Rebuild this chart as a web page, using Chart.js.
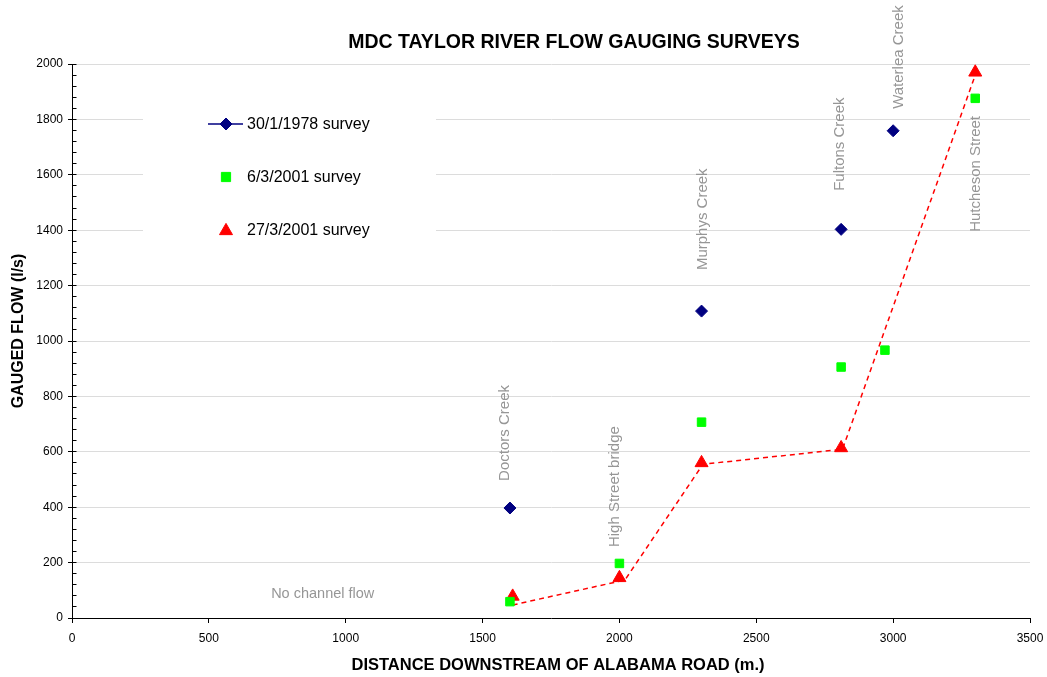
<!DOCTYPE html>
<html>
<head>
<meta charset="utf-8">
<title>MDC Taylor River flow gauging surveys</title>
<script src="https://cdn.jsdelivr.net/npm/chart.js@4/dist/chart.umd.min.js"></script>
<style>
  html, body { margin: 0; padding: 0; background: #ffffff; }
  #wrap { width: 1047px; height: 677px; position: relative; }
</style>
</head>
<body>
<div id="wrap"><canvas id="flowChart" width="1047" height="677"></canvas></div>
<script>
// ---- Survey data: distance downstream (m) and gauged flow (l/s) ----
const distance1978 = [1600, 2300, 2810, 3000];
const flow1978     = [397, 1108, 1403, 1759];

const distanceMar6 = [1600, 2000, 2300, 2810, 2970, 3300];
const flowMar6     = [59, 197, 707, 906, 967, 1876];

const distanceMar27 = [1610, 2000, 2300, 2810, 3300];
const flowMar27     = [78, 145, 560, 614, 1970];

// dashed trace drawn along the 27/3/2001 survey
const traceDistance = [1610, 2020, 2305, 2815, 3300];
const traceFlow     = [47, 137, 555, 609, 1960];

const seriesNames = ['30/1/1978 survey', '6/3/2001 survey', '27/3/2001 survey'];

// gauging sites along the river
const siteNames = ['Doctors Creek', 'High Street bridge', 'Murphys Creek',
                   'Fultons Creek', 'Waterlea Creek', 'Hutcheson Street'];
const noFlowNote = 'No channel flow';

// axis ranges
const xMin = 0, xMax = 3500, xStep = 500;
const yMin = 0, yMax = 2000, yStep = 200, yMinorStep = 40;

// ---- layout / styling ----
const FONT = '"Liberation Sans", Arial, Helvetica, sans-serif';
const NAVY = '#000080', GREEN = '#00ff00', RED = '#ff0000';
const NOTE_GREY = '#969696';
const GRID_GREY = '#dcdcdc';

// where each site name starts (data units), text runs upward
const siteAnchors = [
  { x: 1583, y: 495 },
  { x: 1985, y: 256 },
  { x: 2305, y: 1256 },
  { x: 2805, y: 1542 },
  { x: 3021, y: 1838 },
  { x: 3303, y: 1394 }
];
const noFlowAnchor = { x: 916, y: 87 };

const toPoints = (xs, ys) => xs.map((v, i) => ({ x: v, y: ys[i] }));
const plainNumber = (v) => String(v);

function drawMarker(ctx, style, x, y, r, color) {
  ctx.save();
  ctx.fillStyle = color;
  ctx.strokeStyle = color;
  ctx.lineWidth = 1;
  ctx.beginPath();
  if (style === 'diamond') {
    ctx.moveTo(x - r, y); ctx.lineTo(x, y - r); ctx.lineTo(x + r, y); ctx.lineTo(x, y + r);
  } else if (style === 'square') {
    const s = r * Math.SQRT1_2;
    ctx.rect(x - s, y - s, 2 * s, 2 * s);
  } else {
    const half = r * Math.sin(Math.PI / 3);
    ctx.moveTo(x, y - r * 0.75 - 1);
    ctx.lineTo(x + half, y + r * 0.75 - 1);
    ctx.lineTo(x - half, y + r * 0.75 - 1);
  }
  ctx.closePath();
  ctx.fill();
  ctx.stroke();
  ctx.restore();
}

const decorations = {
  id: 'decorations',
  afterDraw(chart) {
    const { ctx, chartArea, scales } = chart;
    const xs = scales.x, ys = scales.y;
    ctx.save();

    // inner tick marks on the flow axis (major + minor)
    ctx.strokeStyle = '#000';
    ctx.lineWidth = 1;
    const axisX = Math.round(chartArea.left) + 0.5;
    for (let v = yMin; v <= yMax; v += yMinorStep) {
      const py = Math.round(ys.getPixelForValue(v) - 0.5) + 0.5;
      ctx.beginPath();
      ctx.moveTo(axisX, py);
      ctx.lineTo(axisX + 4, py);
      ctx.stroke();
    }

    // chart title
    ctx.fillStyle = '#000';
    ctx.textAlign = 'center';
    ctx.textBaseline = 'middle';
    ctx.font = 'bold 19.5px ' + FONT;
    ctx.fillText('MDC TAYLOR RIVER FLOW GAUGING SURVEYS', 574, 43);

    // axis titles
    ctx.font = 'bold 16.5px ' + FONT;
    ctx.fillText('DISTANCE DOWNSTREAM OF ALABAMA ROAD (m.)', 558, 665);
    ctx.save();
    ctx.translate(19, 331);
    ctx.rotate(-Math.PI / 2);
    ctx.font = 'bold 16px ' + FONT;
    ctx.fillText('GAUGED FLOW (l/s)', 0, 0);
    ctx.restore();

    // site names, written upward
    ctx.fillStyle = NOTE_GREY;
    ctx.font = '15px ' + FONT;
    ctx.textAlign = 'left';
    ctx.textBaseline = 'middle';
    siteNames.forEach((name, i) => {
      const a = siteAnchors[i];
      ctx.save();
      ctx.translate(xs.getPixelForValue(a.x), ys.getPixelForValue(a.y));
      ctx.rotate(-Math.PI / 2);
      ctx.fillText(name, 0, 0);
      ctx.restore();
    });
    ctx.textAlign = 'center';
    ctx.font = '14.5px ' + FONT;
    ctx.fillText(noFlowNote, xs.getPixelForValue(noFlowAnchor.x), ys.getPixelForValue(noFlowAnchor.y));

    // legend panel
    ctx.fillStyle = '#ffffff';
    ctx.fillRect(143, 95, 293, 163);
    const rows = [124, 177, 230];
    ctx.strokeStyle = NAVY;
    ctx.lineWidth = 1.5;
    ctx.beginPath();
    ctx.moveTo(208, rows[0]);
    ctx.lineTo(243, rows[0]);
    ctx.stroke();
    drawMarker(ctx, 'diamond', 226, rows[0], 6, NAVY);
    drawMarker(ctx, 'square', 226, rows[1], 6.5, GREEN);
    drawMarker(ctx, 'triangle', 226, rows[2], 7.5, RED);
    ctx.fillStyle = '#000';
    ctx.textAlign = 'left';
    ctx.textBaseline = 'middle';
    ctx.font = '16px ' + FONT;
    seriesNames.forEach((name, i) => ctx.fillText(name, 247, rows[i] + 1));

    ctx.restore();
  }
};

new Chart(document.getElementById('flowChart'), {
  type: 'scatter',
  data: {
    datasets: [
      {
        label: seriesNames[0],
        data: toPoints(distance1978, flow1978),
        pointStyle: 'rectRot',
        pointRadius: 6,
        pointBorderWidth: 1,
        backgroundColor: NAVY,
        borderColor: NAVY,
        showLine: false
      },
      {
        label: seriesNames[1],
        data: toPoints(distanceMar6, flowMar6),
        pointStyle: 'rect',
        pointRadius: 6,
        pointBorderWidth: 1,
        backgroundColor: GREEN,
        borderColor: GREEN,
        showLine: false
      },
      {
        label: seriesNames[2],
        data: toPoints(distanceMar27, flowMar27),
        pointStyle: 'triangle',
        pointRadius: 7.5,
        pointBorderWidth: 1,
        backgroundColor: RED,
        borderColor: RED,
        showLine: false
      },
      {
        label: 'trace',
        data: toPoints(traceDistance, traceFlow),
        showLine: true,
        pointRadius: 0,
        borderColor: RED,
        borderWidth: 1.5,
        borderDash: [5, 4],
        fill: false,
        tension: 0
      }
    ]
  },
  options: {
    responsive: false,
    animation: false,
    devicePixelRatio: 1,
    layout: { padding: { top: 64, right: 17, bottom: 0, left: 0 } },
    plugins: {
      legend: { display: false },
      title: { display: false },
      tooltip: { enabled: false }
    },
    scales: {
      x: {
        type: 'linear',
        min: xMin, max: xMax,
        afterFit(scale) {
          scale.height = 59;
          scale.paddingLeft = 0;
          scale.paddingRight = 0;
        },
        ticks: {
          stepSize: xStep,
          padding: 8,
          color: '#000',
          font: { family: FONT, size: 12 },
          maxRotation: 0,
          callback: plainNumber
        },
        grid: { drawOnChartArea: false, drawTicks: true, tickLength: 5, tickColor: '#000' },
        border: { display: true, color: '#000', width: 1, z: 1 }
      },
      y: {
        type: 'linear',
        min: yMin, max: yMax,
        afterFit(scale) {
          scale.width = 72;
          scale.paddingTop = 0;
          scale.paddingBottom = 0;
        },
        ticks: {
          stepSize: yStep,
          padding: 5,
          color: '#000',
          font: { family: FONT, size: 12 },
          callback: plainNumber
        },
        grid: { color: GRID_GREY, lineWidth: 1, drawTicks: true, tickLength: 4, tickColor: '#000' },
        border: { display: true, color: '#000', width: 1 }
      }
    }
  },
  plugins: [decorations]
});
</script>
</body>
</html>
